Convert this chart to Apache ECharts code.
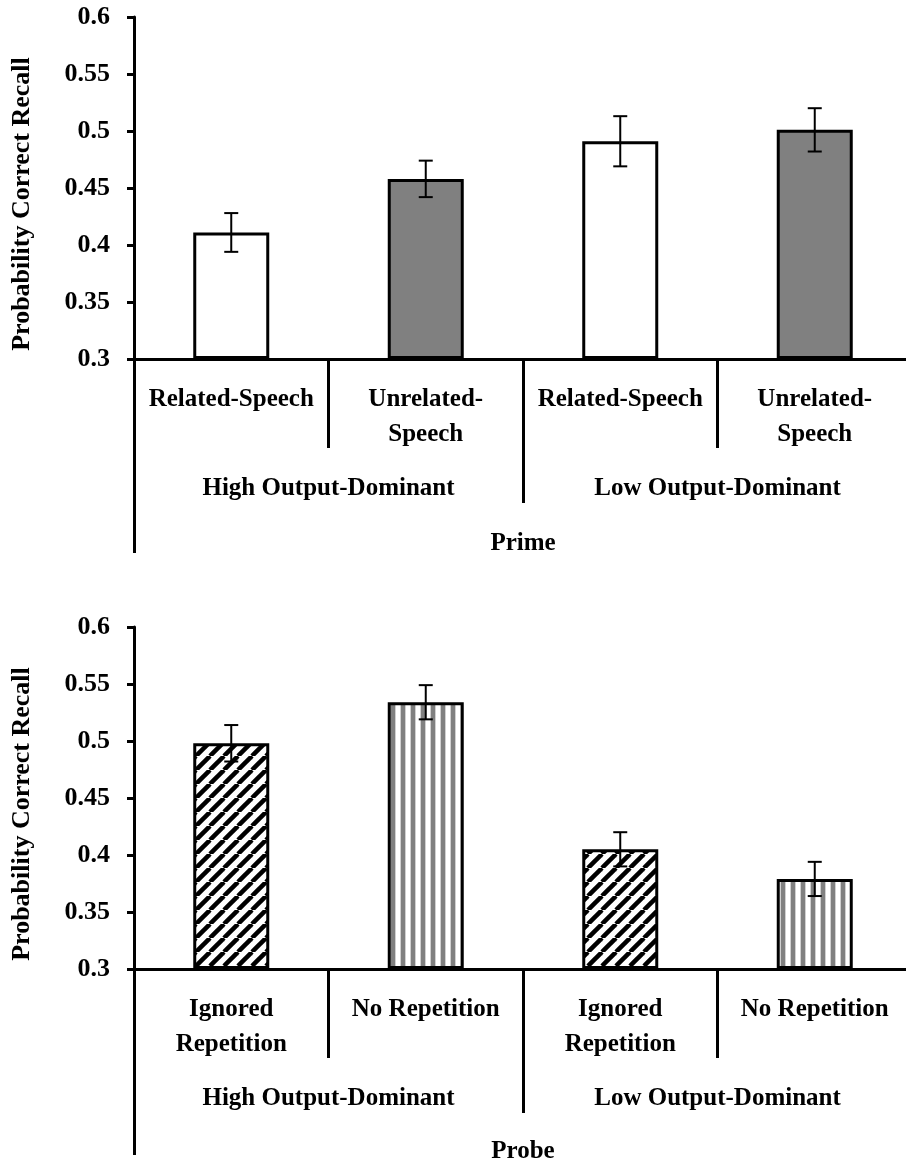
<!DOCTYPE html>
<html>
<head>
<meta charset="utf-8">
<script src="https://cdn.jsdelivr.net/npm/echarts@6/dist/echarts.min.js"></script>
<style>
html,body{margin:0;padding:0;background:#fff;overflow:hidden;width:906px;height:1168px;}
#chart{width:920px;height:1168px;}
</style>
</head>
<body>
<div id="chart"></div>
<script>
// ---- data ----
const topCategories = ['Related-Speech', 'Unrelated-\nSpeech', 'Related-Speech', 'Unrelated-\nSpeech'];
const topGroups = ['High Output-Dominant', 'Low Output-Dominant'];
const topValues = [0.411, 0.458, 0.491, 0.501];
const topErrors = [0.017, 0.016, 0.022, 0.019];
const topAxisName = 'Prime';

const bottomCategories = ['Ignored\nRepetition', 'No Repetition', 'Ignored\nRepetition', 'No Repetition'];
const bottomGroups = ['High Output-Dominant', 'Low Output-Dominant'];
const bottomValues = [0.498, 0.534, 0.405, 0.379];
const bottomErrors = [0.016, 0.015, 0.015, 0.015];
const bottomAxisName = 'Probe';

const yTitle = 'Probability Correct Recall';
const yMin = 0.3, yMax = 0.6, yStep = 0.05;

// ---- patterns ----
function diagPattern() {
  const s = 14;
  const c = document.createElement('canvas');
  c.width = s; c.height = s;
  const ctx = c.getContext('2d');
  ctx.fillStyle = '#fff'; ctx.fillRect(0, 0, s, s);
  ctx.strokeStyle = '#000'; ctx.lineWidth = 4.5;
  for (let k = -1; k <= 1; k++) {
    ctx.beginPath();
    ctx.moveTo(k * s, s);
    ctx.lineTo(k * s + s, 0);
    ctx.stroke();
  }
  return { image: c, repeat: 'repeat' };
}
function vertPattern() {
  const w = 10;
  const c = document.createElement('canvas');
  c.width = w; c.height = 4;
  const ctx = c.getContext('2d');
  ctx.fillStyle = '#fff'; ctx.fillRect(0, 0, w, 4);
  ctx.fillStyle = '#d0d0d0'; ctx.fillRect(0, 0, 1, 4); ctx.fillRect(5, 0, 1, 4);
  ctx.fillStyle = '#808080'; ctx.fillRect(1, 0, 4, 4);
  return { image: c, repeat: 'repeat' };
}

const FONT = 'Liberation Serif';
const FS = 25;
const FS_TICK = 26;
const FS_TITLE = 26;
const black = '#000';

const topFills = ['#ffffff', '#808080', '#ffffff', '#808080'];
const diag = diagPattern(), vert = vertPattern();
const bottomFills = [diag, vert, diag, vert];

const grids = [
  { left: 134, top: 17, width: 778, height: 342 },
  { left: 134, top: 627, width: 778, height: 342 }
];

function yAxisFor(gi) {
  return {
    type: 'value', gridIndex: gi, min: yMin, max: yMax, interval: yStep, startValue: yMin,
    axisLine: { show: true, lineStyle: { color: black, width: 3 } },
    axisTick: { show: true, inside: false, length: 7, lineStyle: { color: black, width: 3 } },
    axisLabel: {
      margin: 24, color: black, fontFamily: FONT, fontWeight: 'bold', fontSize: FS_TICK,
      formatter: v => String(Math.round(v * 100) / 100)
    },
    splitLine: { show: false }
  };
}

function xAxesFor(gi, cats, groups, name, extLen, nameGap) {
  return [
    {
      type: 'category', gridIndex: gi, data: cats, position: 'bottom',
      axisLine: { show: true, lineStyle: { color: black, width: 3 } },
      axisTick: { show: true, length: 89, lineStyle: { color: black, width: 3 } },
      axisLabel: { interval: 0, margin: 23, color: black, fontFamily: FONT, fontWeight: 'bold', fontSize: FS, lineHeight: 35, align: 'center' }
    },
    {
      type: 'category', gridIndex: gi, data: groups, position: 'bottom',
      axisLine: { show: false },
      axisTick: { show: true, length: 144, lineStyle: { color: black, width: 3 } },
      axisLabel: { interval: 0, margin: 112, color: black, fontFamily: FONT, fontWeight: 'bold', fontSize: FS, lineHeight: 35 }
    },
    {
      type: 'category', gridIndex: gi, data: [''], position: 'bottom',
      axisLine: { show: false },
      axisTick: { show: true, length: extLen, lineStyle: { color: black, width: 3 } },
      axisLabel: { show: false },
      name: name, nameLocation: 'middle', nameGap: nameGap,
      nameTextStyle: { color: black, fontFamily: FONT, fontWeight: 'bold', fontSize: FS, lineHeight: 25 }
    }
  ];
}

function barSeries(gi, values, fills) {
  return {
    type: 'bar', xAxisIndex: gi * 3, yAxisIndex: gi, barWidth: 76, z: 3,
    data: values.map((v, i) => ({ value: v, itemStyle: { color: fills[i], borderColor: black, borderWidth: 3 } }))
  };
}

function errSeries(gi, values, errs) {
  return {
    type: 'custom', xAxisIndex: gi * 3, yAxisIndex: gi, z: 5,
    data: values.map((v, i) => [i, v - errs[i], v + errs[i]]),
    encode: { x: 0, y: [1, 2] },
    renderItem: function (params, api) {
      const lo = api.coord([api.value(0), api.value(1)]);
      const hi = api.coord([api.value(0), api.value(2)]);
      const hw = 7;
      const st = { stroke: black, lineWidth: 2 };
      return {
        type: 'group',
        children: [
          { type: 'line', shape: { x1: hi[0], y1: hi[1], x2: lo[0], y2: lo[1] }, style: st },
          { type: 'line', shape: { x1: hi[0] - hw, y1: hi[1], x2: hi[0] + hw, y2: hi[1] }, style: st },
          { type: 'line', shape: { x1: lo[0] - hw, y1: lo[1], x2: lo[0] + hw, y2: lo[1] }, style: st }
        ]
      };
    }
  };
}

const chart = echarts.init(document.getElementById('chart'), null, { renderer: 'canvas' });
chart.setOption({
  backgroundColor: '#fff',
  animation: false,
  grid: grids,
  xAxis: [].concat(
    xAxesFor(0, topCategories, topGroups, topAxisName, 194, 172),
    xAxesFor(1, bottomCategories, bottomGroups, bottomAxisName, 186, 170)
  ),
  yAxis: [yAxisFor(0), yAxisFor(1)],
  graphic: [
    { type: 'text', x: 22, y: 204, rotation: Math.PI / 2,
      style: { text: yTitle, fill: black, font: 'bold ' + FS_TITLE + 'px "' + FONT + '"', textAlign: 'center', textVerticalAlign: 'middle' } },
    { type: 'text', x: 22, y: 814, rotation: Math.PI / 2,
      style: { text: yTitle, fill: black, font: 'bold ' + FS_TITLE + 'px "' + FONT + '"', textAlign: 'center', textVerticalAlign: 'middle' } }
  ],
  series: [
    barSeries(0, topValues, topFills),
    errSeries(0, topValues, topErrors),
    barSeries(1, bottomValues, bottomFills),
    errSeries(1, bottomValues, bottomErrors)
  ]
});
</script>
</body>
</html>
